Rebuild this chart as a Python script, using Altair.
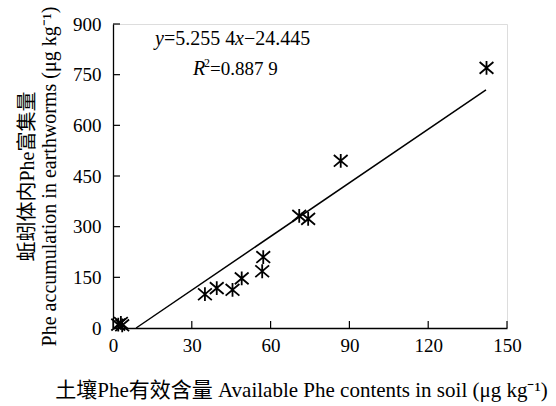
import altair as alt
import pandas as pd

soil_phe = [2.0, 3.0, 3.5, 35.0, 39.5, 45.5, 49.0, 56.8, 57.2, 70.9, 74.3, 86.7, 142.2]
worm_phe = [10, 15, 8, 100, 118, 113, 147, 168, 210, 332, 323, 495, 770]

# Drawn fitted line endpoints
fit_x = [8.8, 142.0]
fit_y = [0.0, 705.0]

x_ticks = [0, 30, 60, 90, 120, 150]
y_ticks = [0, 150, 300, 450, 600, 750, 900]

W, H = 394, 304
FONT = "Liberation Serif, Times New Roman, Noto Sans CJK SC"
FS = 19
EFS = 20

pts = pd.DataFrame({"x": soil_phe, "y": worm_phe})
fit = pd.DataFrame({"x": fit_x, "y": fit_y})
xt = pd.DataFrame({"v": x_ticks})
yt = pd.DataFrame({"v": y_ticks})

xs = alt.Scale(domain=[0, 150], nice=False, zero=True)
ys = alt.Scale(domain=[0, 900], nice=False, zero=True)

xaxis = alt.Axis(values=x_ticks, tickSize=0, labelPadding=8, labelFontSize=FS,
                 labelFont=FONT, labelColor="black", domainColor="black", domainWidth=1.3,
                 grid=False, title="土壤Phe有效含量 Available Phe contents in soil (μg kg⁻¹)",
                 titleFont=FONT, titleFontSize=21, titleFontWeight="normal", titleColor="black",
                 titlePadding=24, titleX=188, titleAlign="center", labelFlush=False)
yaxis = alt.Axis(values=y_ticks, tickSize=0, labelPadding=12, labelFontSize=FS,
                 labelFont=FONT, labelColor="black", domainColor="black", domainWidth=1.3,
                 grid=False,
                 title=["蚯蚓体内Phe富集量", "Phe accumulation in earthworms (μg kg⁻¹)"],
                 titleFont=FONT, titleFontSize=20, titleFontWeight="normal", titleColor="black",
                 titlePadding=13, titleLineHeight=22, labelFlush=False)

star = "M-1,-0.85L1,0.85M-1,0.85L1,-0.85M0,-1L0,1"

points = alt.Chart(pts).mark_point(shape=star, size=190, filled=False, color="black",
                                   strokeWidth=1.8, opacity=1).encode(
    x=alt.X("x:Q", scale=xs, axis=xaxis),
    y=alt.Y("y:Q", scale=ys, axis=yaxis),
)

line = alt.Chart(fit).mark_line(color="black", strokeWidth=1.5).encode(
    x=alt.X("x:Q", scale=xs), y=alt.Y("y:Q", scale=ys))

xtick = alt.Chart(xt).mark_rule(color="black", strokeWidth=1.2).encode(
    x=alt.X("v:Q", scale=xs), y=alt.value(H), y2=alt.value(H - 7))
ytick = alt.Chart(yt).mark_rule(color="black", strokeWidth=1.2).encode(
    y=alt.Y("v:Q", scale=ys), x=alt.value(0), x2=alt.value(7))

# Equation annotation, anchored in data coordinates
eq = pd.DataFrame({"x": [16.0], "y": [838.0], "x2": [30.5], "y2": [748.0]})


def seg(text, dx, italic=False, size=EFS, dy=0, ycol="y", xcol="x"):
    return alt.Chart(eq).mark_text(text=text, align="left", baseline="alphabetic", dx=dx, dy=dy,
                                   font=FONT, fontSize=size, color="black",
                                   fontStyle="italic" if italic else "normal").encode(
        x=alt.X(f"{xcol}:Q", scale=xs), y=alt.Y(f"{ycol}:Q", scale=ys))


eq_layers = [
    seg("y", 0, True),
    seg("=5.255 4", 9),
    seg("x", 80, True),
    seg("−24.445", 89),
    seg("R", 0, True, ycol="y2", xcol="x2"),
    seg("2", 11, False, size=12, dy=-8, ycol="y2", xcol="x2"),
    seg("=0.887 9", 17, size=19, ycol="y2", xcol="x2"),
]

chart = alt.layer(line, points, xtick, ytick, *eq_layers).properties(
    width=W, height=H,
    autosize=alt.AutoSizeParams(type="none"),
    padding={"left": 113, "top": 24, "right": 49, "bottom": 78},
).configure_view(stroke=None).configure(background="white")

chart.save("out.html", embed_options={"renderer": "svg", "actions": False})
